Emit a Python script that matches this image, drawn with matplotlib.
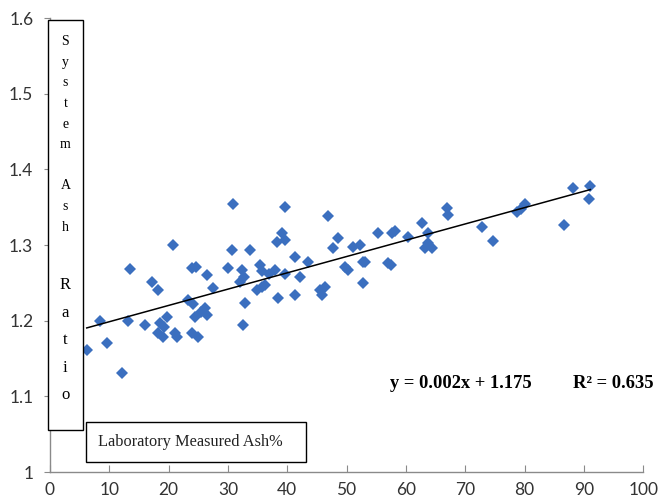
import matplotlib.pyplot as plt
import matplotlib.ticker as mticker
from matplotlib.patches import Rectangle
import numpy as np

# Laboratory measured ash % vs system ash ratio
lab_ash = [6.2, 8.4, 9.6, 12.1, 13.2, 13.5, 16.0, 17.2, 18.2, 18.5,
           18.2, 19.0, 19.7, 19.3, 20.7, 21.1, 21.4, 23.3, 24.1, 23.9,
           24.6, 23.9, 24.9, 24.4, 26.1, 26.4, 25.4, 26.4, 27.4, 30.0,
           30.9, 30.7, 32.4, 32.7, 32.0, 33.7, 32.9, 32.5, 35.4, 35.7,
           37.0, 34.9, 35.7, 36.2, 38.0, 38.5, 39.1, 38.3, 39.6, 39.6,
           39.6, 41.3, 41.3, 42.1, 43.5, 45.5, 46.4, 45.8, 46.9, 48.6,
           47.7, 49.7, 50.2, 51.1, 52.2, 52.7, 53.1, 52.7, 55.3, 57.0,
           57.5, 57.7, 58.2, 60.3, 62.8, 63.8, 63.8, 63.3, 64.4, 66.9,
           67.1, 72.9, 74.7, 78.7, 80.0, 79.4, 86.6, 88.1, 91.1, 90.9]
ash_ratio = [1.161, 1.200, 1.170, 1.131, 1.200, 1.268, 1.194, 1.251, 1.240, 1.197,
             1.184, 1.178, 1.205, 1.192, 1.300, 1.184, 1.178, 1.227, 1.222, 1.269,
             1.271, 1.184, 1.178, 1.205, 1.217, 1.207, 1.212, 1.260, 1.243, 1.269,
             1.354, 1.293, 1.267, 1.258, 1.251, 1.293, 1.223, 1.194, 1.273, 1.265,
             1.262, 1.240, 1.245, 1.247, 1.267, 1.230, 1.316, 1.304, 1.306, 1.350,
             1.262, 1.284, 1.234, 1.258, 1.277, 1.240, 1.244, 1.234, 1.339, 1.309,
             1.296, 1.271, 1.267, 1.297, 1.300, 1.278, 1.277, 1.250, 1.316, 1.276,
             1.274, 1.316, 1.318, 1.310, 1.329, 1.316, 1.303, 1.296, 1.296, 1.349,
             1.340, 1.324, 1.305, 1.343, 1.354, 1.348, 1.326, 1.375, 1.378, 1.361]

x_ticks = [0, 10, 20, 30, 40, 50, 60, 70, 80, 90, 100]
y_ticks = [1.0, 1.1, 1.2, 1.3, 1.4, 1.5, 1.6]
eq_text = "y = 0.002x + 1.175"
r2_text = "R\u00b2 = 0.635"

fig = plt.figure(figsize=(6.62, 5.03), dpi=100)
ax = fig.add_axes((0.0755, 0.0616, 0.896, 0.9026))

x = np.array(lab_ash)
y = np.array(ash_ratio)
ax.plot(x, y, 'D', color='#3b6fbf', markersize=6.5, markeredgewidth=0, zorder=3)

# linear trend line over the data range
coef = np.polyfit(x, y, 1)
xl = np.array([x.min(), x.max()])
ax.plot(xl, np.polyval(coef, xl), color='black', linewidth=1.1, zorder=4)

ax.set_xlim(0, 100)
ax.set_ylim(1.0, 1.6)
ax.set_xticks(x_ticks)
ax.set_yticks(y_ticks)
ax.yaxis.set_major_formatter(mticker.FuncFormatter(lambda v, p: f"{v:g}"))
for side in ('top', 'right'):
    ax.spines[side].set_visible(False)
for side in ('left', 'bottom'):
    ax.spines[side].set_color('#8a8a8a')
    ax.spines[side].set_linewidth(1.0)
ax.tick_params(axis='x', direction='in', length=5, color='#8a8a8a', labelsize=12.5,
               labelcolor='#333333', pad=7)
ax.tick_params(axis='y', direction='out', length=4, color='#8a8a8a', labelsize=12.5,
               labelcolor='#333333', pad=8)
for lab in ax.get_xticklabels() + ax.get_yticklabels():
    lab.set_family('Lato')

# vertical axis title box
ax.add_patch(Rectangle((-0.0034, 0.0925), 0.059, 0.903, transform=ax.transAxes,
                       facecolor='white', edgecolor='black', linewidth=1.0,
                       clip_on=False, zorder=5))
ax.text(0.026, 0.962, "\n".join("System Ash"), transform=ax.transAxes, ha='center',
        va='top', family='Liberation Serif', fontsize=10, linespacing=1.76, zorder=6)
ax.text(0.026, 0.152, "\n".join("Ratio"), transform=ax.transAxes, ha='center',
        va='bottom', family='Liberation Serif', fontsize=12, linespacing=1.95, zorder=6)

# horizontal axis title box
ax.add_patch(Rectangle((0.0607, 0.022), 0.371, 0.088, transform=ax.transAxes,
                       facecolor='white', edgecolor='black', linewidth=1.0,
                       clip_on=False, zorder=5))
ax.text(0.236, 0.066, "Laboratory Measured Ash%", transform=ax.transAxes, ha='center',
        va='center', family='Liberation Serif', fontsize=11.8, color='#222222', zorder=6)

# trend equation
ax.text(0.573, 0.196, eq_text, transform=ax.transAxes, ha='left', va='center',
        family='Liberation Serif', fontweight='bold', fontsize=13.3)
ax.text(0.882, 0.196, r2_text, transform=ax.transAxes, ha='left', va='center',
        family='Liberation Serif', fontweight='bold', fontsize=13.3)

fig.savefig("out.png", dpi=100)
